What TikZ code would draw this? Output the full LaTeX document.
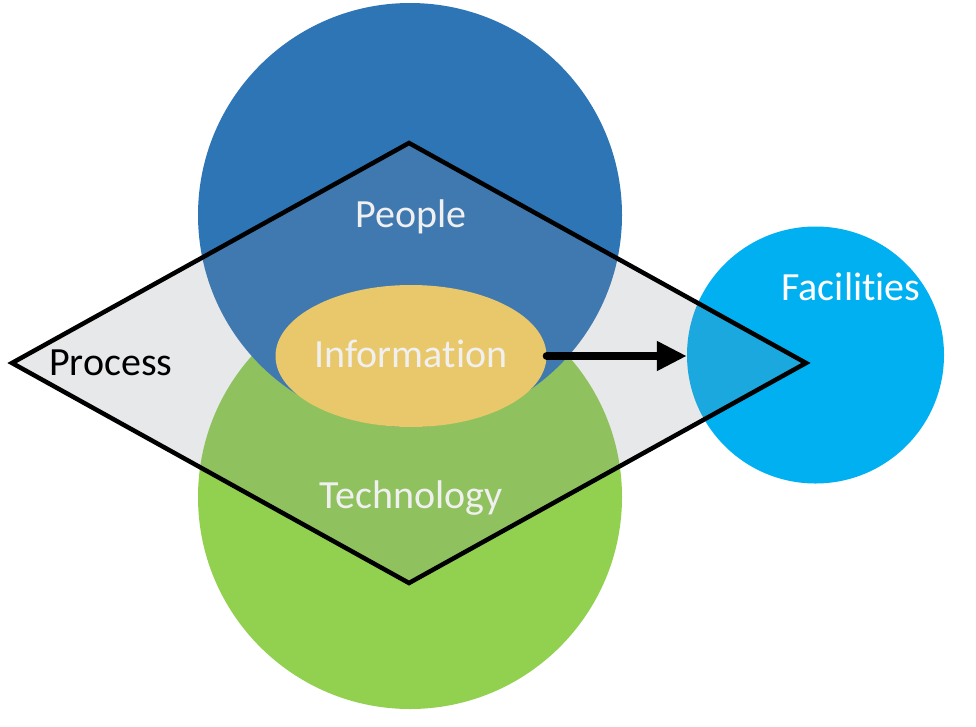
\documentclass[tikz,border=0pt]{standalone}
\usepackage{fontspec}
\setmainfont{Carlito}[Ligatures={NoCommon,NoRequired,NoContextual}]
\usetikzlibrary{arrows.meta,shapes.geometric}
\definecolor{peopleblue}{RGB}{46,117,182}
\definecolor{techgreen}{RGB}{146,208,80}
\definecolor{facblue}{RGB}{0,176,240}
\definecolor{infogold}{RGB}{232,200,106}
\definecolor{procgray}{RGB}{135,140,150}
\definecolor{lighttext}{RGB}{240,240,240}
\tikzset{
  blob/.style={circle, inner sep=0pt, draw=none},
  lbl/.style={font=\fontsize{40}{40}\selectfont, anchor=base, inner sep=0pt},
}
\begin{document}
\begin{tikzpicture}[x=1pt,y=-1pt]
\useasboundingbox (0,0) rectangle (976,726);
\fill[white] (0,0) rectangle (976,726);
% circles
\node[blob, fill=techgreen, minimum size=424pt] (tech) at (410,497) {};
\node[blob, fill=peopleblue, minimum size=424pt] (people) at (410,215) {};
\node[blob, fill=facblue, minimum size=257pt] (fac) at (815.5,355) {};
% process diamond
\coordinate (dt) at (409,143);
\coordinate (dr) at (806,363);
\coordinate (db) at (409,583);
\coordinate (dl) at (12,363);
\fill[procgray, fill opacity=0.2] (dt) -- (dr) -- (db) -- (dl) -- cycle;
\draw[black, line width=4.5pt, line join=miter] (dt) -- (dr) -- (db) -- (dl) -- cycle;
% information ellipse
\node[ellipse, fill=infogold, minimum width=271pt, minimum height=142pt, inner sep=0pt] (info) at (411,356) {};
% arrow
\draw[line width=8pt, line cap=round, -{Triangle[length=30pt,width=28pt]}] (info.east) -- (info.east -| fac.west);
% labels
\node[lbl, text=lighttext] (tpeople) at (411,227) {People};
\node[lbl, text=lighttext] (tinfo) at (411,367) {Information};
\node[lbl, text=lighttext] (ttech) at (411,508) {Technology};
\node[lbl, text=black, anchor=base west] (tproc) at (49,375) {Process};
\node[lbl, text=white] (tfac) at (851,300) {Facilities};
\end{tikzpicture}
\end{document}
